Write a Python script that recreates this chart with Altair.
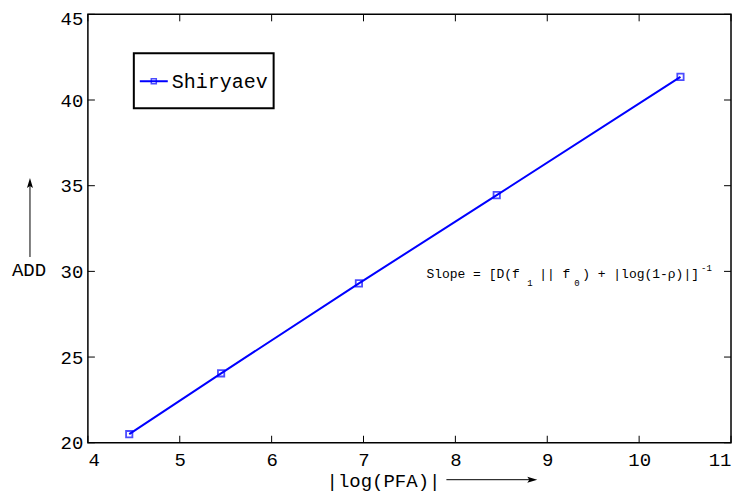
import altair as alt
import pandas as pd

# data
pfa_log = [4.45, 5.45, 6.95, 8.45, 10.45]
add_vals = [20.5, 24.05, 29.3, 34.45, 41.35]
x_ticks = [4, 5, 6, 7, 8, 9, 10, 11]
y_ticks = [20, 25, 30, 35, 40, 45]
series_name = "Shiryaev"

LEFT, TOP = 88, 14          # page position of plot-area corner
W, H = 644, 429
FONT = "Liberation Mono"
BLUE = "#0000ff"

def px(v):
    return alt.value(v - LEFT)

def py(v):
    return alt.value(v - TOP)

df = pd.DataFrame({"x": pfa_log, "y": add_vals})
xt = pd.DataFrame({"x": x_ticks})
yt = pd.DataFrame({"y": y_ticks})

xs = alt.Scale(domain=[4, 11], nice=False, zero=False)
ys = alt.Scale(domain=[20, 45], nice=False, zero=False)

line = alt.Chart(df).mark_line(color=BLUE, strokeWidth=2).encode(
    x=alt.X("x:Q", scale=xs, title=None,
            axis=alt.Axis(values=x_ticks, format="d", labelPadding=8)),
    y=alt.Y("y:Q", scale=ys, title=None,
            axis=alt.Axis(values=y_ticks, format="d", labelPadding=5,
                          labelOffset={"condition": {"test": "datum.value == 45", "value": 4},
                                       "value": 0})),
)
pts = alt.Chart(df).mark_point(shape="square", filled=False, color=BLUE, size=40, strokeWidth=1.8).encode(
    x=alt.X("x:Q", title=None), y=alt.Y("y:Q", title=None)
)

tl = 7
tick_b = alt.Chart(xt).mark_rule(color="black", strokeWidth=1).encode(
    x=alt.X("x:Q", title=None), y=alt.value(H), y2=alt.value(H - tl))
tick_t = alt.Chart(xt).mark_rule(color="black", strokeWidth=1).encode(
    x=alt.X("x:Q", title=None), y=alt.value(0), y2=alt.value(tl))
tick_l = alt.Chart(yt).mark_rule(color="black", strokeWidth=1).encode(
    y=alt.Y("y:Q", title=None), x=alt.value(0), x2=alt.value(tl))
tick_r = alt.Chart(yt).mark_rule(color="black", strokeWidth=1).encode(
    y=alt.Y("y:Q", title=None), x=alt.value(W), x2=alt.value(W - tl))

one = pd.DataFrame({"a": [0]})

# legend
leg_box = alt.Chart(one).mark_rect(fill="white", stroke="black", strokeWidth=2).encode(
    x=px(134), x2=px(274), y=py(53), y2=py(108))
leg_line = alt.Chart(one).mark_rule(color=BLUE, strokeWidth=2).encode(
    x=px(140), x2=px(168), y=py(81))
leg_pt = alt.Chart(one).mark_point(shape="square", filled=False, color=BLUE, size=25, strokeWidth=1.5).encode(
    x=px(154), y=py(81))
leg_txt = alt.Chart(one).mark_text(text=series_name, font=FONT, fontSize=20, align="left",
                                   baseline="middle", color="black").encode(
    x=px(172), y=py(82))

# axis titles with arrows
xtitle = alt.Chart(one).mark_text(text="|log(PFA)|", font=FONT, fontSize=19, align="left",
                                  baseline="alphabetic", color="black").encode(
    x=px(327), y=py(487))
xarrow = alt.Chart(one).mark_rule(color="black", strokeWidth=1).encode(
    x=px(447), x2=px(534), y=py(480))
xhead = alt.Chart(one).mark_point(shape="M1,0L-1,-0.6L-0.6,0L-1,0.6Z", filled=True, color="black",
                                  size=100, opacity=1).encode(x=px(533), y=py(480))
ytitle = alt.Chart(one).mark_text(text="ADD", font=FONT, fontSize=19, align="center",
                                  baseline="alphabetic", color="black").encode(
    x=px(29), y=py(276))
yarrow = alt.Chart(one).mark_rule(color="black", strokeWidth=1).encode(
    x=px(30), y=py(257), y2=py(184))
yhead = alt.Chart(one).mark_point(shape="M0,-1L0.6,1L0,0.6L-0.6,1Z", filled=True, color="black",
                                  size=100, opacity=1).encode(x=px(30), y=py(183))

# slope annotation
def txt(s, x, y, size):
    return alt.Chart(one).mark_text(text=s, font=FONT, fontSize=size, align="left",
                                    baseline="alphabetic", color="black").encode(
        x=px(x), y=py(y))

ann = [
    txt("Slope = [D(f", 427, 278, 13),
    txt("1", 528, 286, 9),
    txt("|| f", 540, 278, 13),
    txt("0", 575, 286, 9),
    txt(") + |log(1-\u03c1)|]", 583, 278, 13),
    txt("-1", 702, 271, 9),
]

chart = alt.layer(
    line, pts, tick_b, tick_t, tick_l, tick_r,
    leg_box, leg_line, leg_pt, leg_txt,
    xtitle, xarrow, xhead, ytitle, yarrow, yhead, *ann
).properties(
    width=W, height=H,
    background="white",
    autosize=alt.AutoSizeParams(type="none"),
    padding={"left": LEFT - 8, "top": TOP - 8, "right": 6, "bottom": 60},
).configure_view(
    stroke="black", strokeWidth=1.5
).configure_axis(
    ticks=False, domain=False, grid=False, labelFont=FONT, labelFontSize=19,
    labelColor="black", labelFontWeight="normal"
)

chart.save("out.html", embed_options={"renderer": "svg", "actions": False})
